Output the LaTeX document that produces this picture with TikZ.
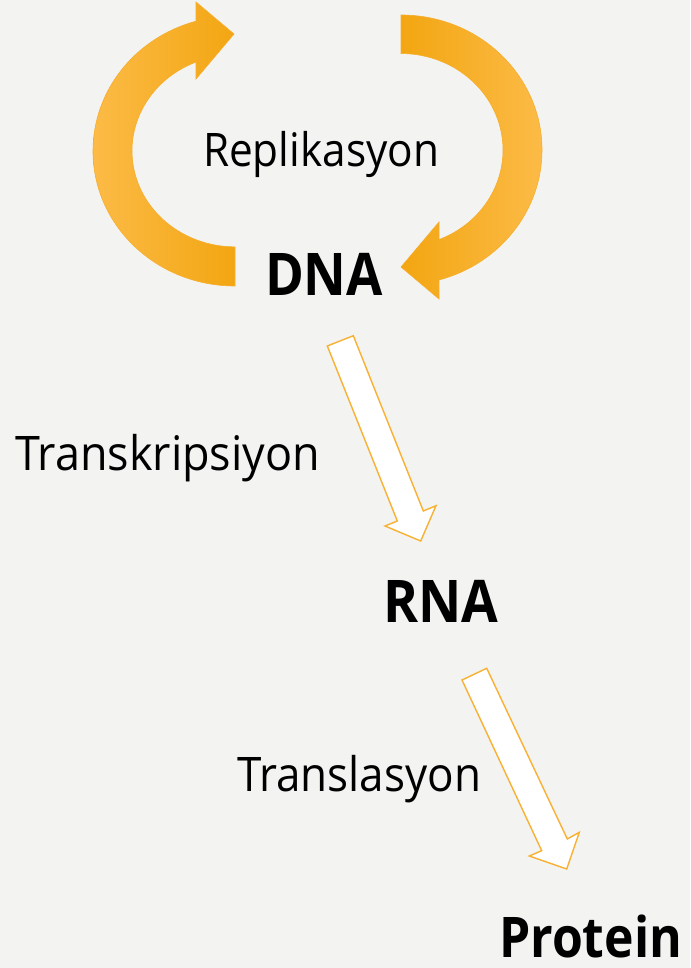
\documentclass[tikz,border=0pt]{standalone}
\usepackage{fontspec}
\setmainfont{Open Sans}
\usepackage{graphicx}
\definecolor{bg}{HTML}{F3F3F1}
\definecolor{orL}{HTML}{FCBB47}
\definecolor{orM}{HTML}{FDB720}
\definecolor{orD}{HTML}{F3A612}
\definecolor{orEdge}{HTML}{F6AE2C}
\definecolor{blockEdge}{HTML}{F8B133}
\newcommand{\fitlabel}[3]{\resizebox{#1pt}{#2pt}{\raisebox{0pt}[\fontcharht\font`X][0pt]{#3}}}
\begin{document}
\begin{tikzpicture}[x=1pt,y=-1pt,
  lbl/.style={inner sep=0pt,outer sep=0pt,anchor=south west,text=black},
  curvearrow/.style={draw=orEdge,line width=0.6pt},
  blockarrow/.style={draw=blockEdge,fill=white,line width=1.4pt,line join=miter}]
\useasboundingbox (0,0) rectangle (690,968);
\fill[bg] (0,0) rectangle (690,968);

% left circular arrow (replication)
\path[curvearrow,left color=orL,middle color=orM,right color=orD]
  (235,286) arc[start angle=90,end angle=254.06,x radius=142,y radius=135]
  -- (196,2) -- (234,34) -- (196,79) -- (196,62)
  arc[start angle=247.75,end angle=90,x radius=103,y radius=96]
  -- cycle;

% right circular arrow (replication)
\path[curvearrow,left color=orD,middle color=orM,right color=orL]
  (401,15) arc[start angle=270,end angle=434.37,x radius=141,y radius=135]
  -- (439,299) -- (401,267) -- (439,222) -- (439,239.6)
  arc[start angle=428.13,end angle=270,x radius=102,y radius=96.5]
  -- cycle;

% labels
\node[lbl] (repl) at (203,167) {\fitlabel{236}{33}{Replikasyon}};
\node[lbl] (dna) at (265,295) {\fitlabel{118}{42}{\bfseries DNA}};
\node[lbl] (trx) at (15,470) {\fitlabel{305}{34}{Transkripsiyon}};
\node[lbl] (rna) at (383,622) {\fitlabel{115}{42}{\bfseries RNA}};
\node[lbl] (trl) at (237,791) {\fitlabel{244}{34}{Translasyon}};
\node[lbl] (prot) at (499,957) {\fitlabel{183}{40}{\bfseries Protein}};

% block arrow DNA -> RNA
\draw[blockarrow] (327.3,346) -- (353.3,335.7) -- (423.3,511) -- (436,505.7)
  -- (420.7,541) -- (385,526) -- (397.3,521) -- cycle;

% block arrow RNA -> Protein
\draw[blockarrow] (462,680) -- (486.7,668.3) -- (567.3,839) -- (579.3,832.3)
  -- (566.7,869) -- (529.3,856) -- (541.7,850.7) -- cycle;
\end{tikzpicture}
\end{document}
